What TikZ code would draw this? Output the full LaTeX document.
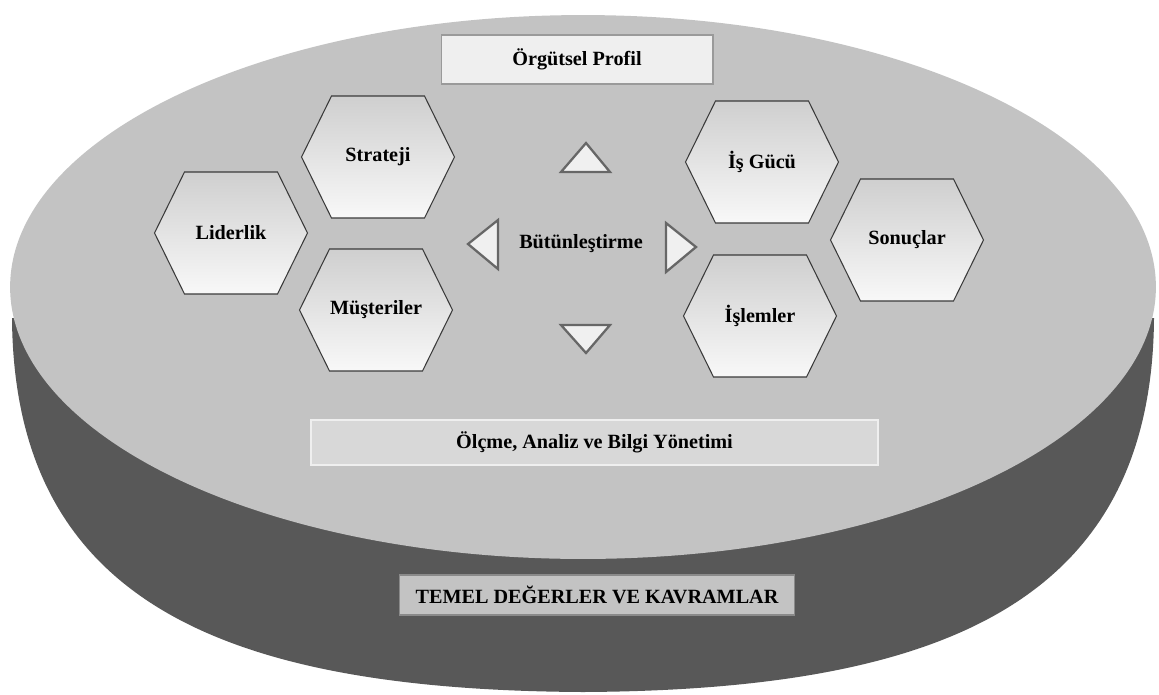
\documentclass[tikz,border=0pt]{standalone}
\usepackage{fontspec}
\setmainfont{Liberation Serif}
\begin{document}
\begin{tikzpicture}[x=0.02cm,y=-0.02cm,
  topface/.style={fill=surface},
  sideface/.style={fill=sidegray},
  hexfill/.style={draw=hexline,line width=0.6pt,top color=hextop,bottom color=hexbottom},
  label/.style={font=\fontsize{11.5}{13}\selectfont\bfseries,text=black,inner sep=0pt},
  arrowtri/.style={fill=trifill,draw=triline,line width=1.3pt,line join=miter},
  profilebox/.style={label,fill=boxlight,draw=boxedge,line width=0.6pt,minimum width=5.44cm,minimum height=0.98cm},
  measurebox/.style={label,fill=boxmid,draw=boxlight,line width=0.8pt,minimum width=11.34cm,minimum height=0.9cm},
  basebox/.style={label,fill=surface,draw=baseedge,line width=0.6pt,minimum width=7.92cm,minimum height=0.8cm}]
\definecolor{surface}{HTML}{C3C3C3}
\definecolor{sidegray}{HTML}{585858}
\definecolor{hexline}{HTML}{3A3A3A}
\definecolor{hextop}{HTML}{CFCFCF}
\definecolor{hexbottom}{HTML}{F8F8F8}
\definecolor{trifill}{HTML}{F0F0F0}
\definecolor{triline}{HTML}{676767}
\definecolor{boxlight}{HTML}{EFEFEF}
\definecolor{boxedge}{HTML}{9A9A9A}
\definecolor{boxmid}{HTML}{D8D8D8}
\definecolor{baseedge}{HTML}{8A8A8A}

% one flat-topped hexagon with its caption: name, centre x, centre y, text
\newcommand\hexcell[4]{%
  \path[hexfill] (#2-76.5,#3) -- (#2-46.5,#3-61) -- (#2+46.5,#3-61)
     -- (#2+76.5,#3) -- (#2+46.5,#3+61) -- (#2-46.5,#3+61) -- cycle;
  \node[label] (#1) at (#2,#3) {#4};}

\useasboundingbox (0,0) rectangle (1159,694);

% side wall of the disc
\path[sideface] (12,318)
  .. controls (14,600) and (220,690) .. (583,692)
  .. controls (946,690) and (1152,600) .. (1154,318)
  -- cycle;

% top face of the disc
\fill[surface] (583,287) ellipse [x radius=11.46cm, y radius=5.44cm];

% heading and footer boxes
\node[profilebox] (profil) at (577,59.5) {Örgütsel Profil};
\node[measurebox] (olcme) at (594.5,442.5) {Ölçme, Analiz ve Bilgi Yönetimi};
\node[basebox] (temel) at (597,595) {TEMEL DEĞERLER VE KAVRAMLAR};

% the six criteria
\hexcell{lider}{231}{233}{Liderlik}
\hexcell{strateji}{378}{157}{Strateji}
\hexcell{musteri}{376}{310}{Müşteriler}
\hexcell{isgucu}{762}{162}{İş Gücü}
\hexcell{sonuc}{907}{240}{Sonuçlar}
\hexcell{islem}{760}{316}{İşlemler}

% integration in the centre, with four pointers
\node[label] (butun) at (581,244) {Bütünleştirme};
\path[arrowtri] (586,143) -- (610,172) -- (561,172) -- cycle;
\path[arrowtri] (586,353) -- (561,325) -- (610,325) -- cycle;
\path[arrowtri] (468,244) -- (498,220) -- (498,269) -- cycle;
\path[arrowtri] (696,247) -- (666,223) -- (666,272) -- cycle;
\end{tikzpicture}
\end{document}
